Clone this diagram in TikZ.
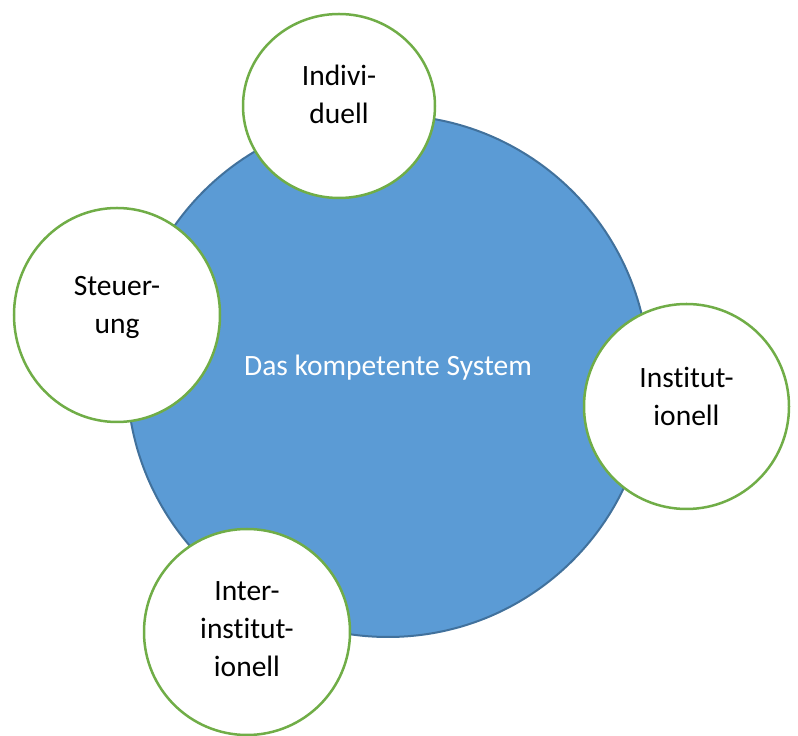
\documentclass[tikz,border=0pt]{standalone}
\usepackage{fontspec}
\setmainfont{Carlito}[RawFeature=-liga]
\usetikzlibrary{positioning,
		shapes.geometric}
\definecolor{sysblue}{HTML}{5B9BD5}
\definecolor{sysedge}{HTML}{41719C}
\definecolor{ringgreen}{HTML}{70AD47}

\begin{document}
\begin{tikzpicture}[
		x=1pt, y=1pt,
		system/.style={circle, fill=sysblue, draw=sysedge, line width=2pt, minimum size=522pt, inner sep=0pt},
		facet/.style={ellipse, fill=white, draw=ringgreen, line width=2.5pt, inner sep=0pt},
		lbl/.style={align=center, font=\fontsize{29.5}{38}\selectfont}
	]
		\useasboundingbox (0,0) rectangle (798,736);
		\node [system] (sys) at (388,360) {};
		\node [lbl, text=white, anchor=base] (systxt) at (sys.center) {Das kompetente System};
		\node [facet, minimum width=192pt, minimum height=184pt] (indiv) at (339,630) {};
		\node [facet, minimum width=206pt, minimum height=214pt] (steuer) at (117,421) {};
		\node [facet, minimum size=205pt] (inst) at (686.5,329.5) {};
		\node [facet, minimum size=206pt] (inter) at (247,104) {};
		\node [lbl] (indivtxt) at ([yshift=12]indiv.center) {Indivi-\\duell};
		\node [lbl] (steuertxt) at ([yshift=8]steuer.center) {Steuer-\\ung};
		\node [lbl] (insttxt) at ([yshift=10]inst.center) {Institut-\\ionell};
		\node [lbl] (intertxt) at ([yshift=3]inter.center) {Inter-\\institut-\\ionell};
	\end{tikzpicture}
\end{document}
